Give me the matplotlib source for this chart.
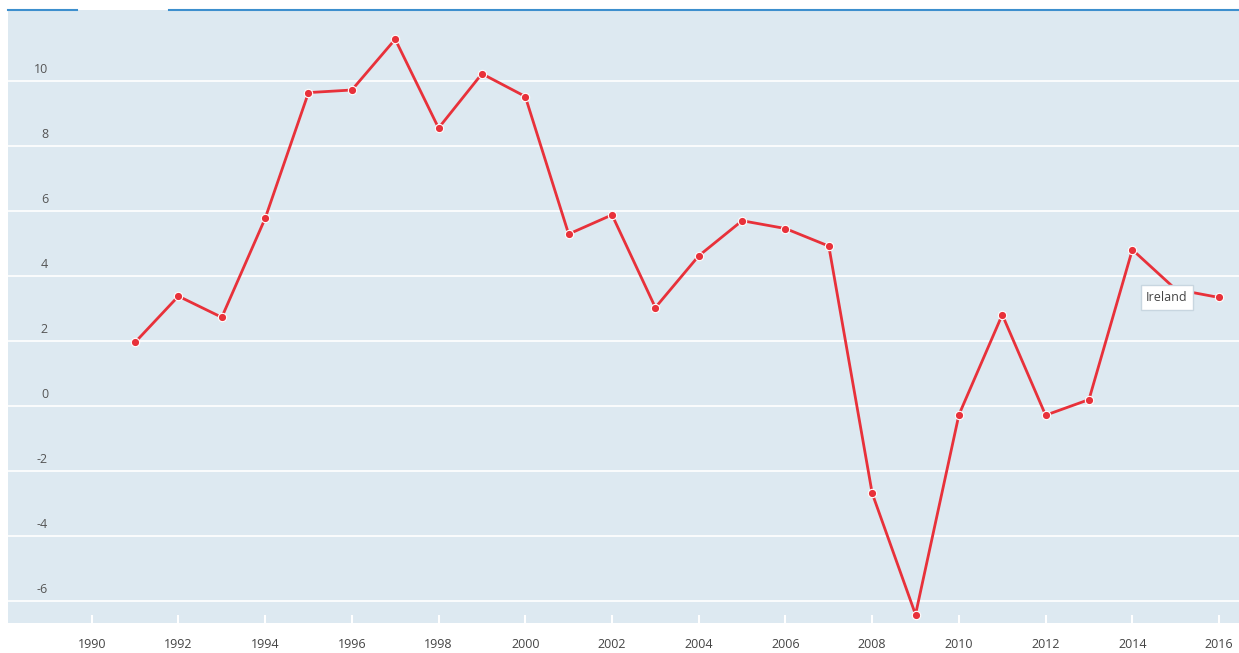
import numpy as np
import matplotlib
matplotlib.use("Agg")
import matplotlib.pyplot as plt

plt.rcParams['font.family'] = ['Open Sans', 'DejaVu Sans']

# データ
years = [1991, 1992, 1993, 1994, 1995, 1996, 1997, 1998, 1999, 2000,
         2001, 2002, 2003, 2004, 2005, 2006, 2007, 2008, 2009, 2010,
         2011, 2012, 2013, 2014, 2015, 2016]
values = [1.95, 3.37, 2.72, 5.76, 9.63, 9.71, 11.27, 8.54, 10.21, 9.51,
          5.28, 5.87, 3.02, 4.61, 5.69, 5.45, 4.91, -2.69, -6.42, -0.28,
          2.80, -0.29, 0.19, 4.80, 3.58, 3.33]
series_name = 'Ireland'
x_ticks = list(range(1990, 2017, 2))
y_ticks = [-6, -4, -2, 0, 2, 4, 6, 8, 10]

bg = '#dde9f1'
red = '#e8313a'

fig = plt.figure(figsize=(12.39, 6.53), dpi=100)
ax = fig.add_axes([8 / 1239, 30 / 653, 1 - 8 / 1239, 613 / 653])
ax.set_facecolor(bg)

ax.set_xlim(1988.07, 2016.46)
ax.set_ylim(-6.68, 12.17)

# グリッド
ax.set_yticks(y_ticks)
ax.yaxis.grid(True, color='white', linewidth=1.2)
ax.set_axisbelow(True)
ax.tick_params(axis='y', length=0, labelleft=False)
for v in y_ticks:
    ax.annotate(str(v), xy=(0, v), xycoords=ax.get_yaxis_transform(),
                xytext=(40, 11), textcoords='offset pixels',
                ha='right', va='center', fontsize=9, color='#555555')

ax.set_xticks(x_ticks)
ax.tick_params(axis='x', direction='in', length=6, width=1.5, color='white',
               labelsize=9, labelcolor='#444444', pad=11)

for s in ax.spines.values():
    s.set_visible(False)

# 折れ線
ax.plot(years, values, color=red, linewidth=2.0, marker='o', markersize=6,
        markeredgecolor='white', markeredgewidth=0.8, zorder=3)

# ラベル
ax.annotate(series_name, xy=(years[-1], values[-1]), xytext=(-52, 0),
            textcoords='offset pixels', ha='center', va='center',
            fontsize=9, color='#444444', zorder=5,
            bbox=dict(boxstyle='square,pad=0.45', fc='white', ec='#c8d6e0', lw=1))

# 上部の青い線
fig.add_artist(plt.Line2D([8 / 1239, 77 / 1239], [1 - 10 / 653] * 2, color='#3d8fce', lw=1.5))
fig.add_artist(plt.Line2D([169 / 1239, 1], [1 - 10 / 653] * 2, color='#3d8fce', lw=1.5))

plt.savefig('out.png', dpi=100)
